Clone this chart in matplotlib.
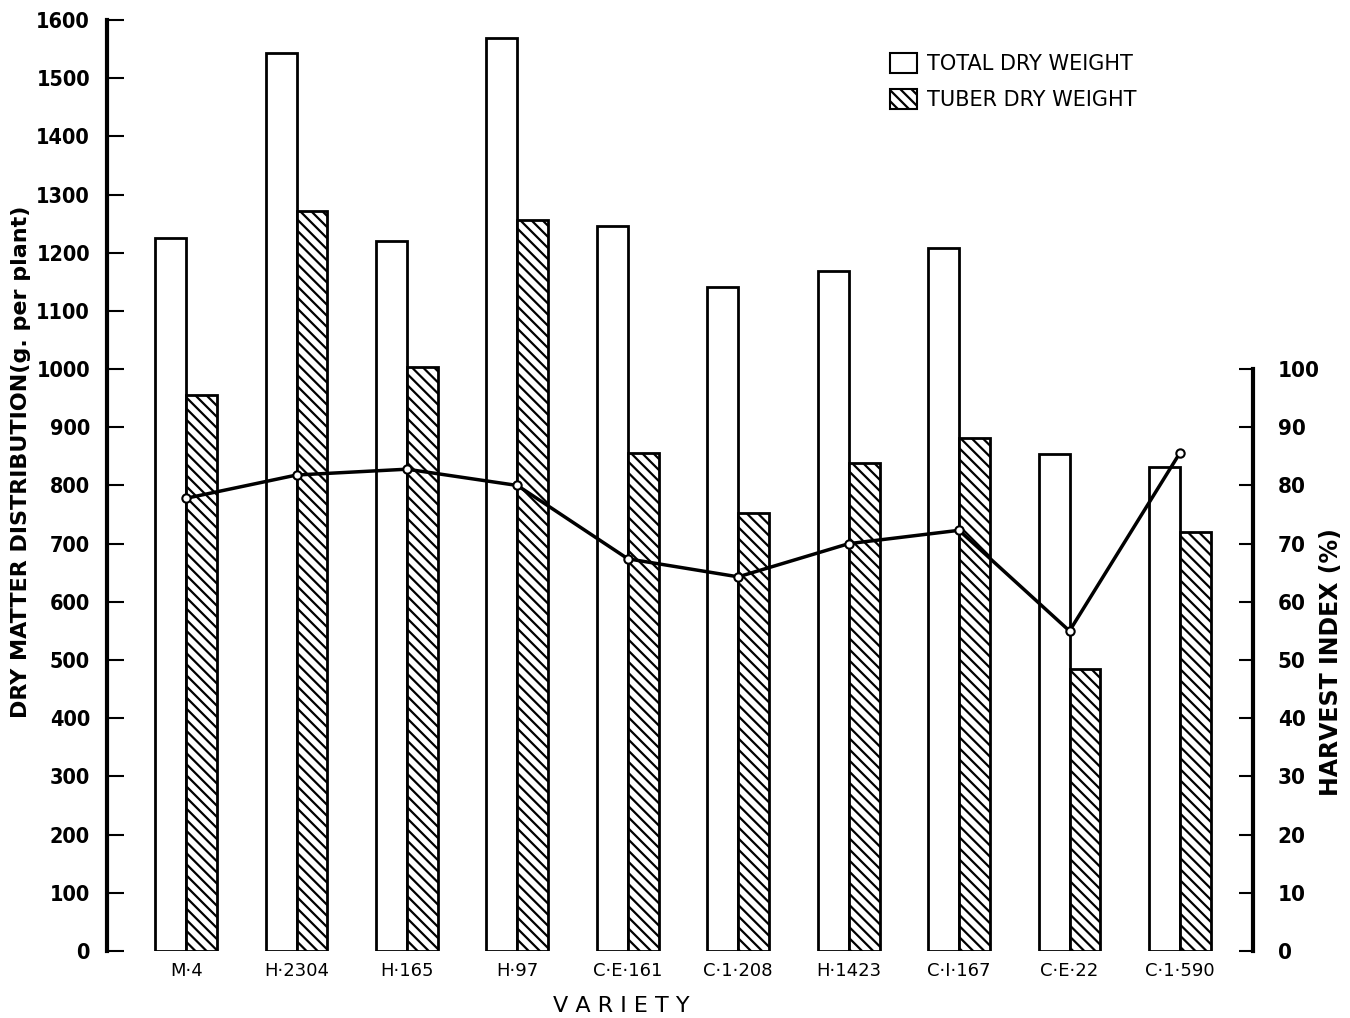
import matplotlib
matplotlib.use("Agg")
import matplotlib.pyplot as plt
import numpy as np
from matplotlib.patches import Patch

varieties = ["M·4", "H·2304", "H·165", "H·97", "C·E·161", "C·1·208",
             "H·1423", "C·I·167", "C·E·22", "C·1·590"]
total_dry = [1225, 1543, 1220, 1569, 1246, 1141, 1169, 1208, 854, 832]
tuber_dry = [955, 1272, 1004, 1256, 855, 753, 839, 882, 485, 720]
harvest_index = [77.8, 81.8, 82.8, 80.0, 67.4, 64.3, 70.0, 72.3, 55.0, 85.6]
left_ticks = list(range(0, 1700, 100))
right_ticks = list(range(0, 110, 10))

plt.rcParams['hatch.linewidth'] = 1.6

fig = plt.figure(figsize=(13.5, 10.18), dpi=100)
ax = fig.add_axes([0.079, 0.0658, 0.849, 0.9146])
x = np.arange(len(varieties))
w = 0.28
ax.bar(x, total_dry, width=-w, align='edge', facecolor='white',
       edgecolor='black', linewidth=2, label='TOTAL DRY WEIGHT')
ax.bar(x, tuber_dry, width=w, align='edge', facecolor='white',
       edgecolor='black', linewidth=2, hatch='\\\\\\', label='TUBER DRY WEIGHT')
ax.set_xlim(-0.72, 9.66)
ax.set_ylim(0, 1600)
ax.set_yticks(left_ticks)
ax.set_yticklabels([str(t) for t in left_ticks], fontstretch='condensed',
                   fontweight='bold', fontsize=15.5)
ax.set_xticks(x)
ax.set_xticklabels(varieties, fontsize=13)
ax.tick_params(axis='x', length=0, pad=8)
ax.tick_params(axis='y', direction='in', length=12, width=1.5, pad=12)
for s in ['top', 'right', 'bottom']:
    ax.spines[s].set_visible(False)
ax.spines['left'].set_linewidth(3)
ax.set_xlabel("V A R I E T Y", fontsize=16)
ax.xaxis.set_label_coords(0.449, -0.048)
ax.set_ylabel("DRY MATTER DISTRIBUTION(g. per plant)", fontsize=16,
              fontweight='bold')
ax.yaxis.set_label_coords(-0.066, 0.525)

ax2 = ax.twinx()
ax2.set_ylim(0, 160)
ax2.plot(x, harvest_index, color='black', linewidth=2.5, marker='o',
         markersize=6, markerfacecolor='white', markeredgecolor='black',
         markeredgewidth=1.5)
ax2.set_yticks(right_ticks)
ax2.set_yticklabels([str(t) for t in right_ticks], fontstretch='condensed',
                    fontweight='bold', fontsize=16)
ax2.tick_params(axis='y', direction='in', length=10, width=1.5, pad=18)
for s in ['top', 'left', 'bottom']:
    ax2.spines[s].set_visible(False)
ax2.spines['right'].set_linewidth(3)
ax2.spines['right'].set_bounds(0, 100)
ax2.set_ylabel("HARVEST INDEX (%)", fontsize=17, fontweight='bold')
ax2.yaxis.set_label_coords(1.058, 0.31)

handles = [Patch(facecolor='white', edgecolor='black', linewidth=1.5),
           Patch(facecolor='white', edgecolor='black', linewidth=1.5, hatch='\\\\\\')]
leg = ax2.legend(handles, ['TOTAL DRY WEIGHT', 'TUBER DRY WEIGHT'],
                 loc='upper left', bbox_to_anchor=(0.667, 0.985), frameon=False,
                 fontsize=15, handlelength=1.3, handleheight=1.1,
                 handletextpad=0.5, labelspacing=0.75)

fig.savefig("out.png", dpi=100)
